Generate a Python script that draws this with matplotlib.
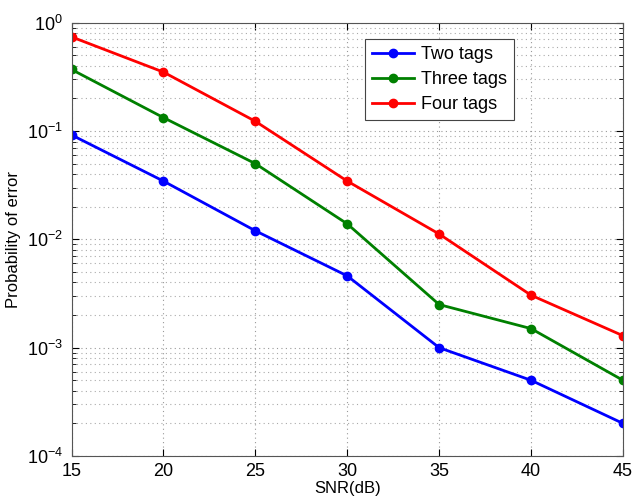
import matplotlib
matplotlib.use('Agg')
import matplotlib.pyplot as plt
import numpy as np
from matplotlib.ticker import LogLocator, NullFormatter

plt.rcParams['font.family'] = ['Liberation Sans', 'DejaVu Sans']
plt.rcParams['mathtext.fontset'] = 'custom'
plt.rcParams['mathtext.rm'] = 'Liberation Sans'
plt.rcParams['mathtext.it'] = 'Liberation Sans'
plt.rcParams['mathtext.default'] = 'regular'

snr = [15, 20, 25, 30, 35, 40, 45]
two_tags = [0.092, 0.0345, 0.012, 0.0046, 0.001, 0.0005, 0.0002]
three_tags = [0.37, 0.133, 0.050, 0.0139, 0.0025, 0.0015, 0.0005]
four_tags = [0.74, 0.35, 0.123, 0.0345, 0.0112, 0.00305, 0.00129]
labels = ['Two tags', 'Three tags', 'Four tags']
colors = ['#0000ff', '#008000', '#ff0000']

fig = plt.figure(figsize=(6.34, 5.0), dpi=100)
ax = fig.add_axes([0.1128, 0.088, 0.8698, 0.8666])

for ys, lab, c in zip([two_tags, three_tags, four_tags], labels, colors):
    ax.semilogy(snr, ys, '-o', color=c, lw=2, ms=6, label=lab)

ax.set_xlim(15, 45)
ax.set_ylim(1e-4, 1)
ax.set_xticks(snr)
ax.yaxis.set_major_locator(LogLocator(base=10, numticks=10))
ax.yaxis.set_minor_locator(LogLocator(base=10, subs=np.arange(2, 10), numticks=50))
ax.yaxis.set_minor_formatter(NullFormatter())

ax.grid(True, which='major', ls=(0, (1, 3)), color='#999999', lw=0.8)
ax.grid(True, which='minor', ls=(0, (1, 3)), color='#aaaaaa', lw=0.8)
ax.tick_params(which='both', direction='in', top=True, right=True, labelsize=13)
ax.tick_params(axis='y', pad=6)
ax.tick_params(axis='x', pad=5)
ax.tick_params(which='major', length=5)
ax.tick_params(which='minor', length=3)
for s in ax.spines.values():
    s.set_color('#555555')

ax.set_xlabel('SNR(dB)', fontsize=12, labelpad=1)
ax.set_ylabel('Probability of error', fontsize=12)

leg = ax.legend(loc='upper left', bbox_to_anchor=(0.532, 0.963), fontsize=13,
                fancybox=False, framealpha=1, edgecolor='#444444', borderaxespad=0,
                handlelength=2.3, borderpad=0.4, labelspacing=0.45, handletextpad=0.4)
leg.get_frame().set_linewidth(0.8)

fig.savefig('out.png', dpi=100)
